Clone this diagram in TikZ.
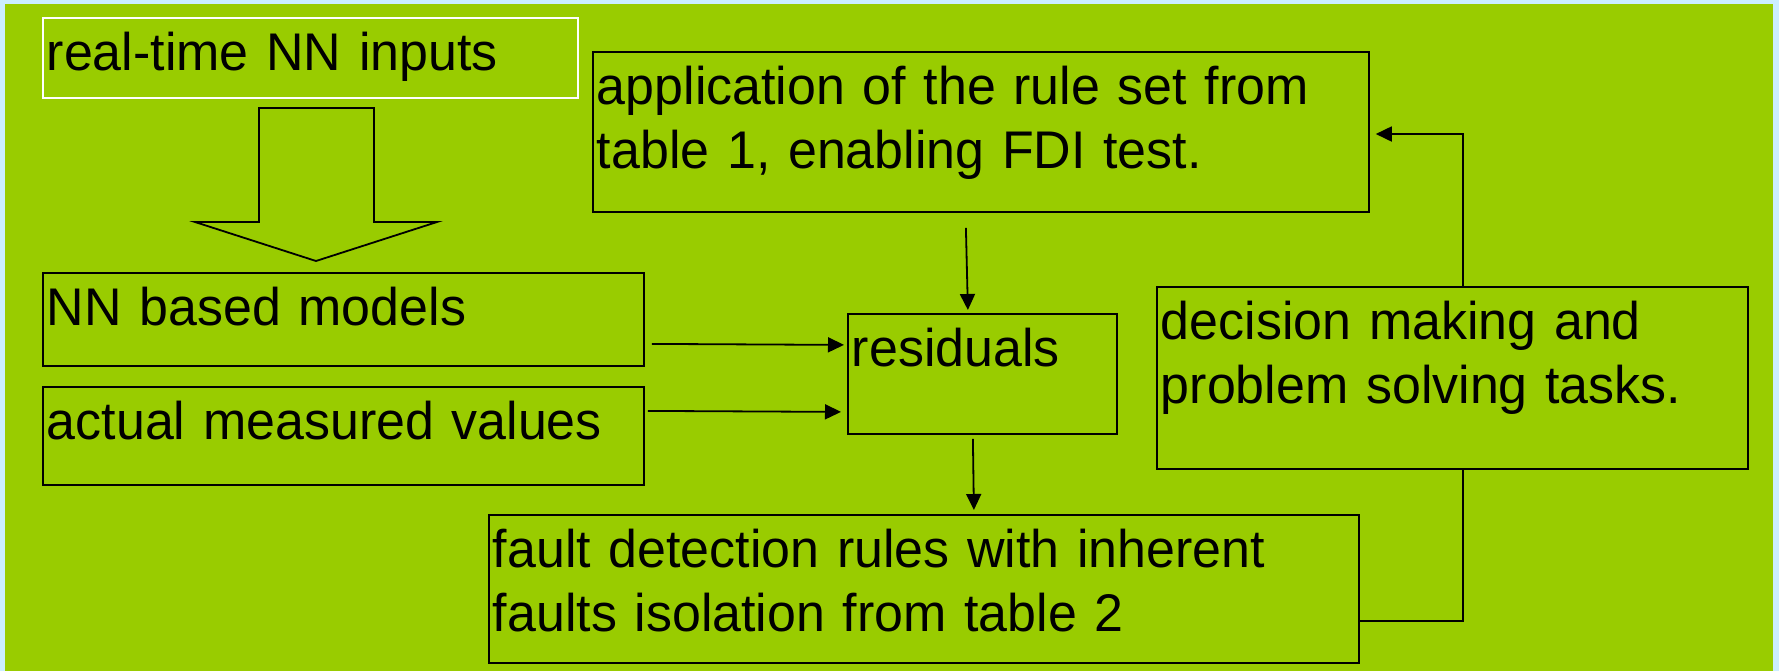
\documentclass[tikz,border=0pt]{standalone}
\usepackage{fontspec}
\setmainfont{Liberation Sans}[FakeStretch=0.98]
\usetikzlibrary{arrows.meta}
\definecolor{slidegreen}{HTML}{99CC00}
\definecolor{slideblue}{HTML}{CCEEFF}

\begin{document}
\begin{tikzpicture}[x=0.5pt, y=-0.5pt, >={Triangle[length=8pt,width=7.5pt]},
	box/.style={draw, line width=0.9pt, anchor=north west, align=left, inner xsep=2pt, inner ysep=0pt, text height=26.5pt, font=\fontsize{26.5}{32}\selectfont},
	link/.style={line width=0.9pt}]
	\useasboundingbox (0,0) rectangle (1779,671);
	\fill[slideblue] (0,0) rectangle (1779,671);
	\fill[slidegreen] (5,4) rectangle (1773,671);
	% boxes
	\node[box, draw=white, line width=0.8pt, text width=263.5pt, text depth=13.5pt] (inputs) at (42,17) {real-time NN inputs};
	\node[box, text width=384pt, text depth=53.5pt] (app) at (592,51) {application of the rule set from\\table 1, enabling FDI test.};
	\node[box, text width=296.5pt, text depth=20pt] (nn) at (42,272) {NN based models};
	\node[box, text width=296.5pt, text depth=22.5pt] (meas) at (42,386) {actual measured values};
	\node[box, text width=130.5pt, text depth=33.5pt] (res) at (847,313) {residuals};
	\node[box, text width=291.5pt, text depth=64.5pt] (dec) at (1156,286) {decision making and\\problem solving tasks.};
	\node[box, text width=431pt, text depth=47.5pt] (fault) at (488,514) {fault detection rules with inherent\\faults isolation from table 2};
	% hollow block arrow
	\draw[line width=0.9pt] (259,108) -- (374,108) -- (374,222) -- (437,222) -- (316,261) -- (195,222) -- (259,222) -- cycle;
	% connectors
	\draw[link, ->] ([xshift=-7.5pt, yshift=-7.5pt]app.south) -- ([xshift=-7.25pt, yshift=1.5pt]res.north);
	\draw[link, ->] ([xshift=3.5pt, yshift=-12.25pt]nn.east) -- ([xshift=-1.5pt, yshift=14.5pt]res.west);
	\draw[link, ->] ([xshift=1.5pt, yshift=12.5pt]meas.east) -- ([xshift=-3pt, yshift=-19pt]res.west);
	\draw[link, ->] ([xshift=-4.75pt, yshift=-2pt]res.south) -- ([xshift=25pt, yshift=2pt]fault.north);
	\coordinate (up) at (1463,134);
	\coordinate (dn) at (1463,621);
	\draw[link, ->] (dec.north -| up) -- (up) -- ([xshift=3pt]app.east |- up);
	\draw[link] (fault.east |- dn) -- (dn) -- (dec.south -| dn);
\end{tikzpicture}
\end{document}
